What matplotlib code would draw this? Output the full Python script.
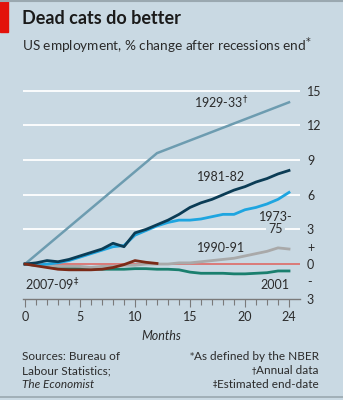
import numpy as np
import matplotlib
matplotlib.use('Agg')
import matplotlib.pyplot as plt

# 数据
months = list(range(25))
months_1929 = [0, 12, 24]
y_1929 = [0, 9.6, 14.0]
y_1981 = [0, 0.1, 0.3, 0.2, 0.4, 0.7, 1.0, 1.3, 1.8, 1.5, 2.7, 3.0, 3.4,
          3.8, 4.3, 4.9, 5.3, 5.6, 6.0, 6.4, 6.7, 7.1, 7.4, 7.8, 8.1]
y_1973 = [0, -0.1, 0.0, 0.1, 0.3, 0.6, 0.9, 1.2, 1.5, 1.6, 2.5, 2.9, 3.3,
          3.6, 3.8, 3.8, 3.9, 4.1, 4.3, 4.3, 4.7, 4.9, 5.2, 5.6, 6.2]
y_1990 = [0, -0.1, -0.1, -0.2, -0.2, -0.2, -0.3, -0.2, -0.2, -0.1, -0.1, 0.0, 0.0,
          0.0, 0.1, 0.1, 0.2, 0.3, 0.4, 0.5, 0.7, 0.9, 1.1, 1.4, 1.3]
y_2001 = [0, -0.1, -0.2, -0.3, -0.35, -0.4, -0.4, -0.45, -0.45, -0.45, -0.4, -0.4, -0.45,
          -0.45, -0.5, -0.7, -0.8, -0.8, -0.8, -0.85, -0.85, -0.8, -0.75, -0.6, -0.6]
months_2007 = list(range(13))
y_2007 = [0, -0.15, -0.3, -0.45, -0.5, -0.5, -0.5, -0.45, -0.3, -0.05, 0.3, 0.15, 0.05]

ytick_vals = [15, 12, 9, 6, 3, 1.5, 0, -1.5, -3]
ytick_labels = ['15', '12', '9', '6', '3', '+', '0', '-', '3']
xtick_vals = [0, 5, 10, 15, 20, 24]

bg = '#c9d9e3'
txt = '#2b2b2b'
plt.rcParams['font.family'] = ['Lato', 'DejaVu Sans']
plt.rcParams['mathtext.fontset'] = 'dejavusans'

fig = plt.figure(figsize=(3.43, 4.0), dpi=100, facecolor=bg)
ax = fig.add_axes([22.8 / 343, (400 - 298.7) / 400, 277.2 / 343, 219.5 / 400])
ax.set_facecolor(bg)
ax.set_xlim(-0.2, 25)
ax.set_ylim(-3, 16)
for s in ax.spines.values():
    s.set_visible(False)

# 网格线
for v in [15, 12, 9, 6, 3]:
    ax.axhline(v, color='white', lw=1.3, zorder=1)
ax.axhline(0, color='#e0605a', lw=1.1, zorder=1)
ax.axhline(-3, color='#7a7a7a', lw=1.0, zorder=1, clip_on=False)

ax.plot(months_1929, y_1929, color='#6d9cb0', lw=1.8, zorder=3)
ax.plot(months, y_2001, color='#1a7f6e', lw=2.0, zorder=3)
ax.plot(months, y_1990, color='#a9a9a9', lw=2.0, zorder=3)
ax.plot(months, y_1973, color='#1ea5e0', lw=2.0, zorder=4)
ax.plot(months, y_1981, color='#0b3c55', lw=2.0, zorder=5)
ax.plot(months_2007, y_2007, color='#7b2a17', lw=2.0, zorder=6)

# 刻度
ax.yaxis.tick_right()
ax.set_yticks(ytick_vals)
ax.set_yticklabels(ytick_labels)
ax.tick_params(axis='y', length=0, pad=5, labelsize=9, labelcolor=txt)
ax.set_xticks(xtick_vals)
ax.set_xticks(months, minor=True)
ax.tick_params(axis='x', which='major', length=6, width=0.8, color='#7a7a7a',
               labelsize=9, labelcolor=txt, pad=3)
ax.tick_params(axis='x', which='minor', length=4, width=0.8, color='#7a7a7a')
ax.set_xlabel('Months', fontsize=9, style='italic', color=txt, labelpad=5)

# 标签
kw = dict(fontsize=9, color=txt, zorder=7)
ax.text(17.8, 14.0, r'1929-33$^{\dagger}$', ha='center', va='center', **kw)
ax.text(17.8, 7.5, '1981-82', ha='center', va='center', **kw)
ax.text(22.8, 4.1, '1973-', ha='center', va='center', **kw)
ax.text(22.8, 3.0, '75', ha='center', va='center',
        bbox=dict(facecolor=bg, edgecolor='none', pad=1.5), **kw)
ax.text(17.8, 1.4, '1990-91', ha='center', va='center', **kw)
ax.text(0.0, -1.8, r'2007-09$^{\ddagger}$', ha='left', va='center', **kw)
ax.text(24.0, -1.8, '2001', ha='right', va='center', **kw)

# 标题
fig.patches.append(plt.Rectangle((0, 1 - 32 / 400), 8 / 343, 32 / 400,
                                 transform=fig.transFigure, color='#e3120b'))
fig.text(22 / 343, 1 - 19 / 400, 'Dead cats do better', fontsize=13,
         fontweight='bold', color='#1a1a1a', va='center')
fig.text(22 / 343, 1 - 46 / 400, r'US employment, % change after recessions end$^{*}$',
         fontsize=9.8, color=txt, va='center')

# 脚注
fs = 8.5
rows = [357, 371, 384]
fig.text(22 / 343, 1 - rows[0] / 400, 'Sources: Bureau of', fontsize=fs, color=txt, va='center')
fig.text(22 / 343, 1 - rows[1] / 400, 'Labour Statistics;', fontsize=fs, color=txt, va='center')
fig.text(22 / 343, 1 - rows[2] / 400, 'The Economist', fontsize=fs, color=txt, va='center',
         style='italic')
notes = ['As defined by the NBER', 'Annual data', 'Estimated end-date']
marks = ['*', '\u2020', '\u2021']
for r, n, m in zip(rows, notes, marks):
    t = fig.text(319 / 343, 1 - r / 400, n, fontsize=fs, color=txt, va='center', ha='right')
    fig.add_artist(matplotlib.text.Annotation(m, xy=(0, 0.95), xycoords=t, ha='right',
                                              va='top', fontsize=6, color=txt,
                                              family='DejaVu Sans'))

fig.add_artist(plt.Line2D([0, 1], [1 - 397 / 400] * 2, color='#9aa8b0', lw=1.2))
fig.add_artist(plt.Line2D([0, 1], [1 - 1 / 400] * 2, color='#9aa8b0', lw=1.5))

fig.savefig('out.png', dpi=100, facecolor=bg)
